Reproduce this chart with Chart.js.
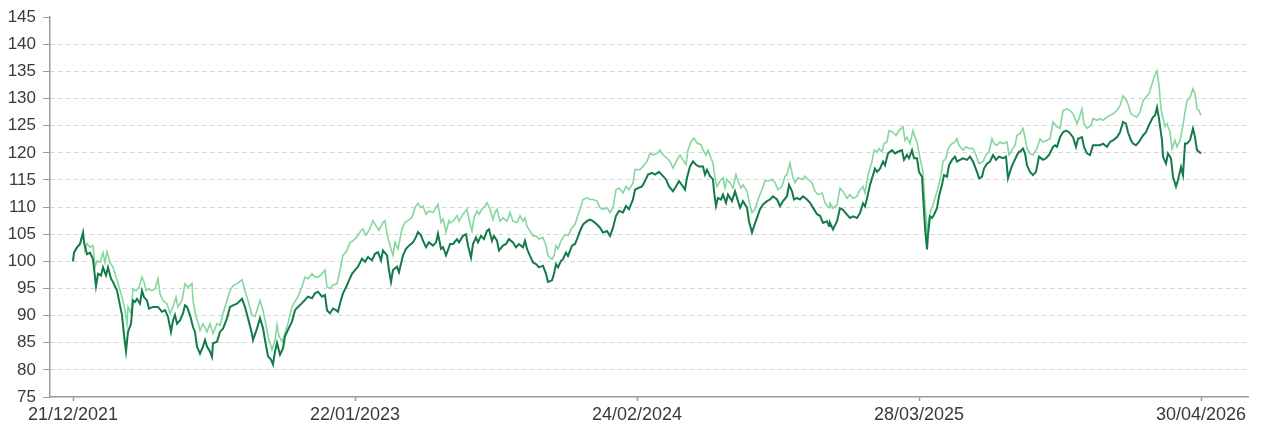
<!DOCTYPE html>
<html>
<head>
<meta charset="utf-8">
<script src="https://cdn.jsdelivr.net/npm/chart.js@4.4.1/dist/chart.umd.min.js"></script>
<style>
  html, body { margin: 0; padding: 0; background: #fff; }
  #wrap { width: 1263px; height: 429px; }
</style>
</head>
<body>
<div id="wrap"><canvas id="perfChart" width="1263" height="429"></canvas></div>
<script>
// x = trading day index since 21/12/2021
const tickDays = [0, 282, 564, 846, 1128];
const tickLabels = ["21/12/2021", "22/01/2023", "24/02/2024", "28/03/2025", "30/04/2026"];

const darkDays = [0,1,4,7,10,11,14,17,20,23,25,28,30,33,35,38,40,44,46,49,51,53,55,58,60,62,64,67,69,71,74,76,80,85,89,92,95,98,100,102,104,107,110,112,114,117,120,122,124,127,130,132,134,137,139,140,144,147,150,154,157,160,164,169,172,175,179,180,184,187,
  190,192,195,198,200,202,204,207,210,212,215,219,222,225,229,232,235,239,242,245,249,252,254,257,260,263,265,268,270,274,276,279,282,285,289,292,295,299,302,305,308,310,314,316,318,320,324,326,330,333,336,340,343,345,348,350,353,356,360,363,365,368,370,373,376,
  377,380,384,386,390,393,395,398,400,403,405,408,411,414,416,419,421,424,426,430,433,436,440,443,446,450,452,454,457,460,463,466,470,473,475,479,481,483,485,488,490,493,495,499,502,504,507,510,514,517,520,524,527,530,534,537,540,543,546,550,553,556,560,562,565,
  569,572,575,579,582,586,590,593,596,600,603,606,610,612,614,617,620,623,626,630,632,634,637,640,641,643,645,648,650,653,655,659,662,664,667,670,674,676,679,681,684,687,690,694,697,700,704,707,710,714,716,719,721,724,727,730,734,737,740,744,747,750,754,756,
  757,760,764,767,770,774,777,780,784,787,790,792,794,797,800,802,804,807,810,812,815,819,822,825,829,831,834,836,839,841,844,846,849,850,852,854,855,857,859,861,864,866,869,871,874,876,879,882,884,887,890,894,897,900,904,906,909,911,914,917,920,923,926,930,933,935,938,940,944,946,
  947,950,952,954,957,960,963,966,970,973,976,980,982,984,987,990,993,996,1000,1003,1005,1009,1011,1014,1017,1020,1024,1027,1030,1034,1037,1040,1044,1047,1050,1053,1055,1058,1060,1063,1066,1070,1073,1076,1080,1082,1084,1086,1089,1090,1093,1095,1098,1100,1103,1105,1108,1110,1112,1114,1117,1120,1122,1124,1126,1128];
const darkValues = [100,101.6,102.6,103.2,105.3,103.5,101.3,101.6,100.4,95.4,97.7,97.4,98.9,97.4,98.9,96.8,96.2,94.6,92.8,90.1,86.4,83.4,87.0,88.5,92.8,92.5,93.1,92.2,94.6,93.4,92.8,91.3,91.6,91.6,90.7,91.0,89.8,87.0,89.1,90.1,88.5,89.1,90.4,91.9,91.6,90.1,87.9,87.0,84.3,83.0,84.3,85.5,84.3,83.4,82.4,84.9,85.2,87.0,87.6,89.5,91.6,91.9,92.2,93.1,91.6,89.5,86.6,85.5,87.6,89.5,
  87.7,85.5,82.5,81.9,81.0,83.4,85.0,82.8,84.0,86.2,87.4,88.9,91.0,91.6,92.3,92.9,93.5,93.2,94.1,94.4,93.5,93.8,91.0,90.4,91.3,91.0,90.7,92.9,94.1,95.6,96.5,97.7,98.4,99.0,100.5,99.9,100.8,100.2,101.4,101.7,100.2,102.0,101.1,98.4,96.2,98.4,99.0,98.0,101.1,102.3,102.9,103.5,104.5,105.4,104.8,103.8,102.6,103.5,102.9,103.5,105.1,102.3,102.6,101.1,102.6,
  103.2,103.2,104.1,103.5,104.7,105.0,102.9,100.7,103.2,104.4,103.5,104.7,104.1,105.6,105.9,103.8,104.7,103.8,102.0,102.9,103.2,104.1,103.5,102.6,103.2,102.6,103.8,102.3,101.0,99.8,99.5,98.9,99.2,97.7,96.2,96.5,97.7,99.5,98.9,100.1,100.4,101.6,101.0,102.9,103.2,104.1,105.6,106.8,107.4,107.7,107.4,106.8,106.2,105.3,105.6,104.7,106.2,108.4,109.3,109.0,110.2,109.6,111.4,113.2,113.5,
  113.8,114.8,116.0,116.3,116.0,116.5,115.7,115.1,113.8,112.9,113.8,114.8,113.8,113.2,115.4,117.5,118.4,117.8,117.5,117.5,116.0,116.9,115.7,115.1,112.9,110.2,111.7,111.4,112.3,110.8,112.3,111.1,112.9,111.7,109.9,111.1,109.9,107.4,105.3,106.5,108.0,109.6,110.5,111.1,111.4,112.0,111.4,110.2,111.1,112.0,114.1,112.9,111.4,111.7,111.4,112.0,111.4,110.8,109.9,108.7,108.4,107.1,107.4,106.5,
  107.1,105.9,107.4,109.8,109.5,108.6,108.0,108.3,108.0,108.9,110.7,110.1,111.6,114.1,115.9,117.1,116.5,117.1,118.4,117.7,119.9,120.5,119.9,120.2,120.5,118.7,119.6,119.0,120.5,119.0,119.0,116.5,115.6,112.3,106.2,102.2,104.9,108.3,108.0,108.6,109.8,112.0,114.1,115.9,115.6,117.7,118.7,119.3,118.4,118.7,119.0,118.7,119.3,118.4,116.5,115.3,115.6,117.1,118.0,118.4,119.6,118.7,119.3,119.0,119.3,115.3,117.1,118.0,119.6,120.2,
  120.2,120.8,119.9,117.7,116.5,115.9,116.5,119.3,118.7,119.0,119.6,121.1,121.4,121.1,122.9,123.8,124.1,123.8,122.9,121.1,122.6,122.9,121.1,119.9,119.6,121.4,121.4,121.4,121.7,121.1,122.0,122.3,122.9,123.8,125.7,125.4,123.8,122.3,121.7,121.4,122.0,123.2,123.8,125.1,126.6,126.9,128.4,126.3,122.3,119.3,118.0,119.9,119.0,115.6,113.8,115.0,117.4,115.9,121.7,121.7,122.3,124.5,122.9,120.5,120.2,119.9];

const lightDays = [0,1,4,7,10,12,14,17,20,22,24,27,30,32,34,37,40,42,45,49,52,54,55,58,60,63,66,69,71,73,75,79,82,85,87,90,94,97,100,103,105,109,112,115,119,120,123,125,127,130,134,137,140,144,147,150,154,157,160,164,169,172,175,179,182,187,
  190,192,195,199,202,204,206,209,212,215,219,222,225,229,232,235,239,242,245,249,252,254,257,260,264,267,270,274,277,280,284,287,290,293,296,300,303,306,310,312,314,317,320,322,325,329,332,335,339,342,345,348,350,353,356,360,363,365,368,370,373,376,
  377,380,384,386,390,394,396,399,401,404,406,409,412,414,417,420,422,424,427,430,434,437,440,444,447,450,452,454,457,460,463,466,470,473,475,479,481,483,485,488,490,493,495,499,502,504,507,510,514,517,520,524,527,530,534,537,540,543,546,550,553,556,560,562,565,
  567,570,574,577,580,584,587,590,594,597,600,604,607,610,613,615,618,621,624,628,630,633,635,638,640,642,644,647,650,652,654,657,660,663,665,668,670,674,676,679,682,685,689,692,695,699,702,705,709,712,714,717,720,722,725,729,732,735,739,742,745,749,752,756,
  757,760,764,767,770,774,777,780,784,786,790,792,795,799,801,804,806,809,811,814,816,820,823,826,830,832,834,837,840,842,844,847,850,852,854,856,858,860,863,865,868,870,873,875,879,882,884,886,890,893,896,900,903,906,910,913,916,919,921,924,927,930,934,936,939,942,944,946,
  947,950,952,954,957,960,964,967,970,974,977,980,984,987,990,994,997,1000,1004,1006,1009,1011,1014,1018,1020,1024,1027,1030,1034,1037,1040,1044,1047,1050,1053,1055,1058,1060,1064,1067,1070,1074,1076,1079,1081,1084,1086,1088,1090,1092,1094,1097,1099,1102,1104,1107,1110,1112,1114,1117,1120,1122,1124,1126,1128];
const lightValues = [100,101.6,102.6,103.2,105.3,102.0,103.3,102.6,102.9,98.9,100.1,99.8,101.6,99.8,101.8,99.8,98.9,97.7,95.9,93.4,91.0,88.5,91.6,90.4,94.9,94.6,95.2,97.1,96.2,94.6,94.9,94.6,94.9,96.8,94.0,92.8,92.2,90.4,91.6,93.4,91.6,92.8,95.9,95.2,95.9,92.8,89.8,88.8,87.3,88.5,87.0,88.5,86.7,88.5,88.2,90.4,92.8,94.6,95.5,95.9,96.6,94.6,92.8,90.1,89.8,92.8,
  91.0,89.2,86.2,83.7,85.5,88.3,86.2,85.2,86.8,88.6,91.6,92.6,93.5,95.3,97.1,96.8,97.7,97.1,97.1,97.7,98.4,95.3,95.0,95.6,95.9,98.4,101.1,102.0,103.5,103.8,104.5,105.4,106.0,104.8,105.7,107.5,106.6,105.7,107.2,107.5,105.1,102.9,101.1,103.5,102.3,106.0,107.2,107.5,108.1,109.9,110.7,109.9,110.2,108.7,109.3,109.0,109.9,110.5,107.2,107.8,105.4,107.5,
  107.1,107.4,108.4,107.4,108.7,109.6,107.7,105.6,108.0,109.3,108.7,109.6,110.2,110.8,109.6,107.7,109.0,109.6,107.4,108.0,107.4,109.0,107.4,107.1,108.4,107.4,108.0,106.5,105.6,104.7,104.7,104.1,104.4,102.9,101.0,100.4,101.0,102.9,102.3,103.8,104.4,105.0,104.7,106.2,106.8,108.0,109.6,111.4,111.7,111.4,111.4,111.1,109.9,109.6,109.9,109.0,109.9,113.2,113.5,112.6,113.8,113.2,114.4,116.9,116.9,
  116.9,117.5,118.4,119.9,119.6,119.9,120.5,119.6,119.0,118.4,117.2,118.7,119.6,118.7,117.8,120.5,122.1,122.7,121.8,121.5,120.5,119.6,120.5,119.0,118.1,115.4,113.8,114.8,115.4,113.5,115.1,114.5,113.5,116.0,114.8,113.5,114.1,112.9,111.1,109.0,109.6,111.4,113.2,114.8,114.8,115.1,114.5,113.2,113.8,115.7,116.0,118.1,115.4,114.5,115.4,115.1,115.7,115.1,114.5,112.9,112.3,112.6,110.8,109.9,
  110.7,109.8,110.4,113.5,112.9,111.6,112.3,111.6,112.0,112.9,113.8,112.6,115.9,118.4,120.5,120.2,120.8,120.2,121.7,122.0,124.1,123.8,123.2,124.1,124.8,122.3,122.9,121.7,124.1,122.9,122.0,119.0,116.5,110.4,105.5,108.0,109.5,110.4,112.3,113.5,115.9,118.4,119.0,120.8,121.7,122.0,122.6,121.4,120.5,121.1,120.8,120.8,119.6,118.0,118.4,119.6,120.2,122.6,121.7,121.4,122.0,121.7,122.0,119.6,120.5,121.4,123.2,123.5,
  123.5,124.5,122.9,120.8,119.9,119.6,120.8,122.6,122.0,122.3,122.6,125.7,124.8,124.5,127.8,128.1,127.8,127.2,125.4,126.3,128.1,125.4,124.5,125.1,126.3,126.0,126.3,126.0,126.6,126.9,127.2,127.8,128.7,130.5,129.9,129.0,127.2,126.9,126.6,127.5,129.6,130.5,130.9,132.7,133.9,135.1,132.4,128.1,126.3,124.8,125.4,123.8,120.8,122.3,121.1,122.3,125.1,127.5,129.6,130.2,131.8,130.9,128.1,127.8,126.9];

const fontFamily = "'Liberation Sans', Arial, sans-serif";

new Chart(document.getElementById("perfChart"), {
    type: "line",
    data: {
        datasets: [
            {
                label: "Series A",
                data: darkDays.map((d, i) => ({ x: d, y: darkValues[i] })),
                borderColor: "#137a4a",
                borderWidth: 2,
                pointRadius: 0,
                fill: false
            },
            {
                label: "Series B",
                data: lightDays.map((d, i) => ({ x: d, y: lightValues[i] })),
                borderColor: "#84d79d",
                borderWidth: 1.6,
                pointRadius: 0,
                fill: false
            }
        ]
    },
    options: {
        responsive: false,
        animation: false,
        layout: { padding: { top: 15, right: 15, left: 0, bottom: 0 } },
        plugins: { legend: { display: false }, tooltip: { enabled: false } },
        elements: { line: { tension: 0 } },
        scales: {
            x: {
                type: "linear",
                min: -23,
                max: 1175,
                afterBuildTicks: s => { s.ticks = tickDays.map(v => ({ value: v })); },
                afterFit: s => { s.height = 32; },
                ticks: {
                    autoSkip: false,
                    maxRotation: 0,
                    color: "#3a3a3a",
                    font: { family: fontFamily, size: 18 },
                    padding: 3,
                    callback: v => tickLabels[tickDays.indexOf(v)]
                },
                grid: { drawOnChartArea: false, drawTicks: true, tickLength: 4, tickColor: "#9a9a9a", tickWidth: 1.5 },
                border: { color: "#9a9a9a", width: 1.5 }
            },
            y: {
                min: 75,
                max: 145,
                afterFit: s => { s.width = 50; },
                ticks: { stepSize: 5, color: "#3a3a3a", font: { family: fontFamily, size: 17 }, padding: 7 },
                grid: {
                    color: c => (c.tick && (c.tick.value === 75 || c.tick.value === 145)) ? "rgba(0,0,0,0)" : "#d3d3d3",
                    tickColor: "#9a9a9a",
                    tickLength: 7,
                    lineWidth: 1
                },
                border: { color: "#9a9a9a", width: 1.5, dash: [4, 4] }
            }
        }
    }
});
</script>
</body>
</html>
